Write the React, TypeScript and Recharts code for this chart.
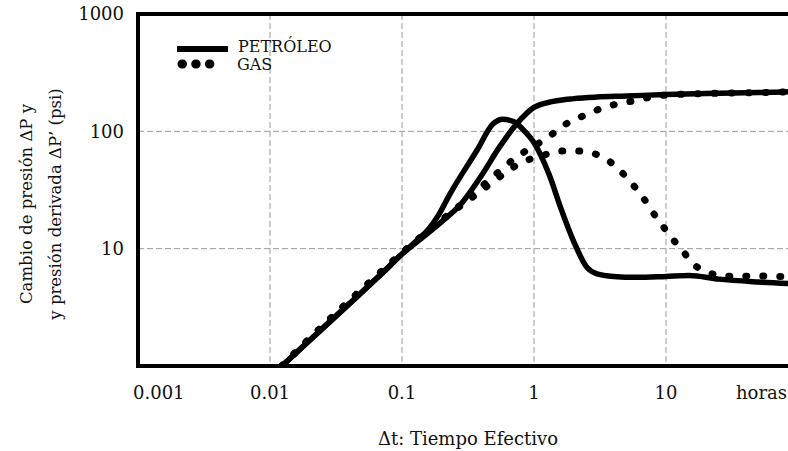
import React from "react";
import { CartesianGrid, Label, Legend, Line, LineChart, ReferenceLine, XAxis, YAxis } from "recharts";

// Δt in hours and pressure values in psi
const oilPressureTime = [0.0123, 0.02, 0.04, 0.07, 0.1, 0.15, 0.2, 0.28, 0.4, 0.55, 0.75, 1, 1.4, 2, 3, 5, 10, 20, 50, 100];
const oilPressure = [1, 1.66, 3.4, 6.1, 9, 13, 17, 24, 42, 74, 118, 160, 180, 190, 196, 200, 206, 210, 214, 218];

const oilDerivativeTime = [0.0123, 0.02, 0.04, 0.07, 0.1, 0.13, 0.16, 0.19, 0.23, 0.37, 0.49, 0.58, 0.7, 0.85, 1, 1.3, 1.6, 2, 2.5, 3, 4, 6, 10, 15, 25, 50, 100];
const oilDerivative = [1, 1.66, 3.4, 6.1, 9, 11.8, 14.8, 19.5, 29, 69, 116, 127, 121, 100, 80, 43, 22, 11.5, 7, 6.1, 5.8, 5.7, 5.8, 5.9, 5.5, 5.2, 5.0];

const gasPressureTime = [0.0123, 0.02, 0.04, 0.07, 0.1, 0.15, 0.2, 0.27, 0.35, 0.44, 0.55, 0.69, 0.9, 1.2, 1.5, 1.8, 2.35, 3, 4, 5.5, 7, 9.5, 15, 30, 60, 100];
const gasPressure = [1, 1.72, 3.6, 6.4, 9.2, 13.5, 17.5, 23, 30, 37, 46, 57, 70, 85, 102, 118, 135, 152, 168, 181, 192, 203, 208, 212, 215, 218];

const gasDerivativeTime = [0.0123, 0.02, 0.04, 0.07, 0.1, 0.15, 0.2, 0.275, 0.35, 0.44, 0.55, 0.69, 0.9, 1.2, 1.57, 2.1, 2.8, 3.6, 4.6, 5.5, 6.6, 7.8, 9.3, 11, 13.2, 15.7, 20, 26, 35, 50, 70, 100];
const gasDerivative = [1, 1.72, 3.6, 6.4, 9.2, 13.5, 17.5, 23, 28, 34, 41, 49, 57, 63, 68, 68, 65, 57, 45, 36, 28, 21, 16, 12.4, 9.8, 7.6, 6.4, 5.9, 5.8, 5.85, 5.8, 5.8];

const xTicks = [0.001, 0.01, 0.1, 1, 10];
const xTickLabels = ["0.001", "0.01", "0.1", "1", "10"];
const yTicks = [1, 10, 100, 1000];
const yTickLabels = ["", "10", "100", "1000"];

const seriesNames = ["PETRÓLEO", "GAS"];
const xTitle = "Δt: Tiempo Efectivo";
const xUnit = "horas";
const yTitleLines = ["Cambio de presión ΔP y", "y presión derivada ΔP’ (psi)"];

const toPoints = (time: number[], values: number[]) => time.map((t, i) => ({ t, p: values[i] }));

const oilPressureData = toPoints(oilPressureTime, oilPressure);
const oilDerivativeData = toPoints(oilDerivativeTime, oilDerivative);
const gasPressureData = toPoints(gasPressureTime, gasPressure);
const gasDerivativeData = toPoints(gasDerivativeTime, gasDerivative);

const FONT = "'DejaVu Serif', serif";
const solid = { stroke: "#000", strokeWidth: 5.5 };
const dotted = { stroke: "#000", strokeWidth: 7, strokeDasharray: "1 16", strokeLinecap: "round" as const };

function XTick(props: any) {
  const { x, y, payload, index } = props;
  const first = index === 0;
  return (
    <text
      x={first ? x - 5 : x}
      y={y + 33}
      textAnchor={first ? "start" : "middle"}
      fontSize={18}
      fontFamily={FONT}
      fill="#111"
    >
      {xTickLabels[xTicks.indexOf(payload.value)]}
    </text>
  );
}

function YTick(props: any) {
  const { x, y, payload } = props;
  return (
    <text x={x - 14} y={y} dy="0.36em" textAnchor="end" fontSize={18} fontFamily={FONT} fill="#111">
      {yTickLabels[yTicks.indexOf(payload.value)]}
    </text>
  );
}

function XTitle(props: any) {
  const vb = props.viewBox;
  return (
    <g fontFamily={FONT} fill="#111" fontSize={18}>
      <text x={vb.x + vb.width - 62} y={vb.y + 33}>{xUnit}</text>
      <text x={vb.x + vb.width / 2} y={vb.y + 79} textAnchor="middle">{xTitle}</text>
    </g>
  );
}

function YTitle(props: any) {
  const vb = props.viewBox;
  const cy = vb.y + vb.height / 2 + 14;
  return (
    <g fontFamily={FONT} fill="#111" fontSize={16.5}>
      {yTitleLines.map((line, i) => {
        const x = vb.x + 22 + i * 29;
        return (
          <text key={line} x={x} y={cy} textAnchor="middle" transform={`rotate(-90 ${x} ${cy})`}>
            {line}
          </text>
        );
      })}
    </g>
  );
}

function LegendBox() {
  return (
    <svg width={200} height={45} style={{ display: "block" }}>
      <line x1={7} y1={19} x2={58} y2={19} stroke="#000" strokeWidth={6} />
      <text x={68} y={22} fontSize={16} fontFamily={FONT} fill="#111">{seriesNames[0]}</text>
      <line x1={12} y1={34} x2={53} y2={34} stroke="#000" strokeWidth={9} strokeDasharray="0.5 13.2" strokeLinecap="round" />
      <text x={67} y={40} fontSize={16} fontFamily={FONT} fill="#111">{seriesNames[1]}</text>
    </svg>
  );
}

export default function App() {
  return (
    <div style={{ position: "fixed", left: 0, top: 0, width: 788, height: 451, overflow: "hidden", background: "#fff" }}>
      <LineChart width={808} height={451} margin={{ top: 14, right: 10, bottom: 0, left: 10 }} style={{ fontFamily: FONT }}>
        <CartesianGrid stroke="#9a9a9a" strokeDasharray="6 3" />
        <XAxis
          dataKey="t"
          type="number"
          scale="log"
          domain={[0.001, 100]}
          allowDataOverflow
          ticks={xTicks}
          interval={0}
          height={85}
          tickSize={0}
          tickMargin={0}
          tickLine={false}
          axisLine={{ stroke: "#000", strokeWidth: 4, strokeLinecap: "square" }}
          tick={<XTick />}
        >
          <Label content={<XTitle />} />
        </XAxis>
        <YAxis
          type="number"
          scale="log"
          domain={[1, 1000]}
          allowDataOverflow
          ticks={yTicks}
          interval={0}
          width={128}
          tickSize={0}
          tickMargin={0}
          tickLine={false}
          axisLine={{ stroke: "#000", strokeWidth: 4, strokeLinecap: "square" }}
          tick={<YTick />}
        >
          <Label content={<YTitle />} />
        </YAxis>
        <ReferenceLine y={1000} stroke="#000" strokeWidth={4} />
        <Legend
          content={<LegendBox />}
          layout="horizontal"
          verticalAlign="middle"
          align="center"
          wrapperStyle={{ position: "absolute", left: 170, top: 30, width: 200, height: 45 }}
        />
        <Line data={gasPressureData} dataKey="p" type="monotone" {...dotted} dot={false} activeDot={false} isAnimationActive={false} />
        <Line data={gasDerivativeData} dataKey="p" type="monotone" {...dotted} dot={false} activeDot={false} isAnimationActive={false} />
        <Line data={oilPressureData} dataKey="p" type="monotone" {...solid} dot={false} activeDot={false} isAnimationActive={false} />
        <Line data={oilDerivativeData} dataKey="p" type="monotone" {...solid} dot={false} activeDot={false} isAnimationActive={false} />
      </LineChart>
    </div>
  );
}
